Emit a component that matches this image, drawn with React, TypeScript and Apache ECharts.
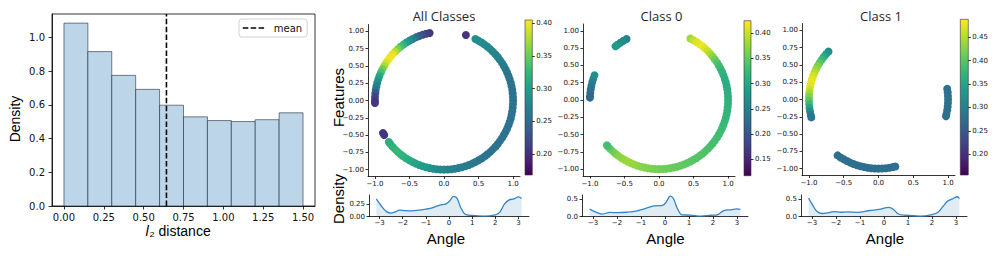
import React, { useEffect, useRef } from 'react';
import * as echarts from 'echarts';

// ---------------- data ----------------
const HIST_BIN_EDGES = [0, 0.15, 0.3, 0.45, 0.6, 0.75, 0.9, 1.05, 1.2, 1.35, 1.5];
const HIST_DENSITY = [1.085, 0.916, 0.775, 0.692, 0.598, 0.529, 0.507, 0.501, 0.512, 0.553];
const MEAN_L2 = 0.643;
const HIST_X_TICKS = [0, 0.25, 0.5, 0.75, 1.0, 1.25, 1.5];
const HIST_Y_TICKS = [0, 0.2, 0.4, 0.6, 0.8, 1.0];

const CIRCLE_X_TICKS = [-1, -0.5, 0, 0.5, 1];
const CIRCLE_Y_TICKS = [-1, -0.75, -0.5, -0.25, 0, 0.25, 0.5, 0.75, 1];
const ANGLE_TICKS = [-3, -2, -1, 0, 1, 2, 3];

// scatter samples: [angle in degrees, colour value]
const ALL_UPPER_LEFT: [number, number][] = [
  [102, 0.205], [105, 0.212], [108, 0.222], [111, 0.235], [114, 0.25], [117, 0.268], [120, 0.285],
  [123, 0.3], [126, 0.32], [129, 0.335], [132, 0.355], [135, 0.378], [138, 0.395], [141, 0.4],
  [144, 0.4], [147, 0.39], [150, 0.375], [153, 0.352], [156, 0.335], [159, 0.315], [162, 0.3],
  [165, 0.285], [168, 0.27], [171, 0.255], [174, 0.235], [177, 0.22], [180, 0.21], [182, 0.205],
];
const ALL_ISOLATED: [number, number][] = [[71.5, 0.205], [208, 0.205], [210, 0.205]];
const ALL_MAIN: [number, number][] = [
  [63, 0.285], [60, 0.284], [57, 0.283], [54, 0.282], [51, 0.28], [48, 0.279], [45, 0.278], [42, 0.276],
  [39, 0.274], [36, 0.271], [33, 0.268], [30, 0.266], [27, 0.264], [24, 0.262], [21, 0.261], [18, 0.26],
  [15, 0.259], [12, 0.258], [9, 0.258], [6, 0.257], [3, 0.257], [0, 0.257], [-3, 0.257], [-6, 0.257],
  [-9, 0.257], [-12, 0.257], [-15, 0.257], [-18, 0.257], [-21, 0.257], [-24, 0.257], [-27, 0.257],
  [-30, 0.257], [-33, 0.257], [-36, 0.257], [-39, 0.257], [-42, 0.257], [-45, 0.257], [-48, 0.258],
  [-51, 0.259], [-54, 0.26], [-57, 0.26], [-60, 0.261], [-63, 0.262], [-66, 0.263], [-69, 0.264],
  [-72, 0.266], [-75, 0.267], [-78, 0.269], [-81, 0.27], [-84, 0.272], [-87, 0.274], [-90, 0.276],
  [-93, 0.279], [-96, 0.282], [-99, 0.285], [-102, 0.289], [-105, 0.292], [-108, 0.296], [-111, 0.3],
  [-114, 0.304], [-117, 0.307], [-120, 0.311], [-123, 0.315], [-126, 0.318], [-129, 0.322], [-132, 0.325],
  [-135, 0.326], [-138, 0.323], [-141, 0.32], [-143, 0.317],
];

const C0_ARC_A: [number, number][] = [[118, 0.255], [121, 0.26], [124, 0.265], [127, 0.275], [129, 0.285]];
const C0_ARC_B: [number, number][] = [
  [159, 0.275], [162, 0.268], [165, 0.255], [168, 0.242], [171, 0.235], [174, 0.228], [177, 0.222], [178, 0.22],
];
const C0_MAIN: [number, number][] = [
  [63, 0.38], [60, 0.395], [57, 0.407], [54, 0.413], [51, 0.415], [48, 0.408], [45, 0.398], [42, 0.386],
  [39, 0.37], [36, 0.355], [33, 0.342], [30, 0.333], [27, 0.325], [24, 0.319], [21, 0.314], [18, 0.311],
  [15, 0.309], [12, 0.308], [9, 0.309], [6, 0.31], [3, 0.312], [0, 0.313], [-3, 0.315], [-6, 0.316],
  [-9, 0.318], [-12, 0.319], [-15, 0.321], [-18, 0.322], [-21, 0.324], [-24, 0.325], [-27, 0.327],
  [-30, 0.328], [-33, 0.33], [-36, 0.331], [-39, 0.332], [-42, 0.333], [-45, 0.335], [-48, 0.336],
  [-51, 0.338], [-54, 0.339], [-57, 0.34], [-60, 0.341], [-63, 0.343], [-66, 0.345], [-69, 0.347],
  [-72, 0.348], [-75, 0.35], [-78, 0.351], [-81, 0.353], [-84, 0.354], [-87, 0.356], [-90, 0.357],
  [-93, 0.359], [-96, 0.361], [-99, 0.363], [-102, 0.366], [-105, 0.368], [-108, 0.37], [-111, 0.373],
  [-114, 0.375], [-117, 0.376], [-120, 0.376], [-123, 0.374], [-126, 0.37], [-129, 0.365], [-132, 0.358],
  [-135, 0.35], [-138, 0.338], [-139, 0.333],
];

const C1_LEFT: [number, number][] = [
  [136, 0.32], [139, 0.338], [142, 0.36], [145, 0.38], [148, 0.4], [151, 0.42], [154, 0.435],
  [157, 0.45], [160, 0.465], [163, 0.475], [166, 0.478], [169, 0.472], [172, 0.46], [175, 0.44],
  [178, 0.42], [181, 0.4], [184, 0.38], [187, 0.35], [190, 0.318], [193, 0.295], [195, 0.285],
];
const C1_RIGHT: [number, number][] = [
  [9, 0.28], [6, 0.28], [3, 0.279], [0, 0.279], [-3, 0.279], [-6, 0.278], [-9, 0.278], [-12, 0.278], [-14, 0.278],
];
const C1_BOTTOM: [number, number][] = [
  [-126, 0.278], [-123, 0.277], [-120, 0.277], [-117, 0.277], [-114, 0.276], [-111, 0.276], [-108, 0.276],
  [-105, 0.275], [-102, 0.275], [-99, 0.275], [-96, 0.275], [-93, 0.275], [-90, 0.275], [-87, 0.276],
  [-84, 0.276], [-81, 0.277], [-78, 0.277], [-76, 0.278],
];

// colour-bar ranges and ticks
const ALL_CBAR_RANGE = [0.168, 0.405];
const ALL_CBAR_TICKS = [0.2, 0.25, 0.3, 0.35, 0.4];
const C0_CBAR_RANGE = [0.118, 0.424];
const C0_CBAR_TICKS = [0.15, 0.2, 0.25, 0.3, 0.35, 0.4];
const C1_CBAR_RANGE = [0.156, 0.488];
const C1_CBAR_TICKS = [0.2, 0.25, 0.3, 0.35, 0.4, 0.45];

// angle densities: [angle, density]
const ALL_DENSITY: [number, number][] = [
  [-3.14, 0.36], [-2.9, 0.2], [-2.7, 0.1], [-2.5, 0.07], [-2.3, 0.1], [-2.15, 0.13], [-1.9, 0.12],
  [-1.6, 0.115], [-1.3, 0.13], [-1.0, 0.15], [-0.7, 0.18], [-0.4, 0.235], [-0.15, 0.255], [0.0, 0.3],
  [0.2, 0.41], [0.35, 0.37], [0.5, 0.19], [0.7, 0.045], [1.0, 0.022], [1.5, 0.008], [2.0, 0.035],
  [2.2, 0.09], [2.4, 0.26], [2.6, 0.34], [2.8, 0.36], [3.0, 0.4], [3.14, 0.37],
];
const C0_DENSITY: [number, number][] = [
  [-3.14, 0.21], [-2.85, 0.12], [-2.6, 0.07], [-2.3, 0.115], [-2.0, 0.11], [-1.6, 0.12], [-1.2, 0.15],
  [-0.8, 0.23], [-0.45, 0.3], [-0.1, 0.315], [0.05, 0.41], [0.22, 0.58], [0.35, 0.51], [0.52, 0.22],
  [0.72, 0.045], [1.05, 0.04], [1.5, 0.012], [1.9, 0.035], [2.15, 0.04], [2.45, 0.17], [2.75, 0.19],
  [3.0, 0.215], [3.14, 0.2],
];
const C1_DENSITY: [number, number][] = [
  [-3.14, 0.52], [-2.95, 0.3], [-2.8, 0.15], [-2.6, 0.085], [-2.35, 0.1], [-2.1, 0.14], [-1.8, 0.12],
  [-1.5, 0.13], [-1.1, 0.115], [-0.6, 0.17], [-0.2, 0.2], [0.2, 0.26], [0.4, 0.2], [0.6, 0.07],
  [0.9, 0.035], [1.5, 0.012], [2.0, 0.055], [2.25, 0.12], [2.45, 0.28], [2.65, 0.44], [2.85, 0.5],
  [3.05, 0.56], [3.14, 0.51],
];

// ---------------- styling / layout ----------------
const W = 997;
const H = 256;
const VIRIDIS = ['#440154', '#482878', '#3e4989', '#31688e', '#26828e', '#1f9e89', '#35b779', '#6ece58', '#b5de2b', '#fde725'];
const TICK_FONT = 'DejaVu Sans';
const LABEL_FONT = 'Liberation Sans';

const fmt = (v: number, d: number) => {
  const s = Math.abs(v).toFixed(d);
  return v < -1e-9 ? '\u2212' + s : s;
};

function valueAxis(gridIndex: number, min: number, max: number, ticks: number[] | null, digits: number, o: any) {
  return {
    type: 'value',
    gridIndex,
    min,
    max,
    show: o.show !== false,
    position: o.position,
    axisLine: { show: o.line !== false, onZero: false, lineStyle: { color: '#000', width: 0.8 } },
    axisTick: {
      show: !!ticks,
      inside: false,
      length: o.tickLen,
      customValues: ticks || undefined,
      lineStyle: { color: '#000', width: 0.8 },
    },
    axisLabel: {
      show: !!ticks,
      customValues: ticks || undefined,
      margin: o.margin,
      fontSize: o.fontSize,
      lineHeight: o.lineHeight,
      fontFamily: TICK_FONT,
      color: '#111',
      formatter: (v: number) => fmt(v, digits),
    },
    splitLine: { show: false },
  };
}

const toCircle = (pts: [number, number][]) =>
  pts.map(([a, v]) => [Math.cos((a * Math.PI) / 180), Math.sin((a * Math.PI) / 180), v]);

const PANELS = [
  {
    title: 'All Classes', titleX: 444, angleX: 446,
    points: [...ALL_UPPER_LEFT, ...ALL_ISOLATED, ...ALL_MAIN],
    cbarRange: ALL_CBAR_RANGE, cbarTicks: ALL_CBAR_TICKS,
    density: ALL_DENSITY, densMax: 0.44, densTicks: [0, 0.25], densDigits: 2,
    scatter: { left: 368, top: 24.5, width: 152, height: 152 },
    cbar: { left: 525, top: 20, width: 7.3, height: 155 },
    dens: { left: 369, top: 195, width: 160, height: 21.5 },
  },
  {
    title: 'Class 0', titleX: 661.5, angleX: 665.5,
    points: [...C0_ARC_A, ...C0_ARC_B, ...C0_MAIN],
    cbarRange: C0_CBAR_RANGE, cbarTicks: C0_CBAR_TICKS,
    density: C0_DENSITY, densMax: 0.61, densTicks: [0, 0.5], densDigits: 1,
    scatter: { left: 583, top: 24, width: 152, height: 152 },
    cbar: { left: 744, top: 20.7, width: 7, height: 155 },
    dens: { left: 582, top: 195, width: 166, height: 21.5 },
  },
  {
    title: 'Class 1', titleX: 881, angleX: 885,
    points: [...C1_LEFT, ...C1_RIGHT, ...C1_BOTTOM],
    cbarRange: C1_CBAR_RANGE, cbarTicks: C1_CBAR_TICKS,
    density: C1_DENSITY, densMax: 0.61, densTicks: [0, 0.5], densDigits: 1,
    scatter: { left: 802, top: 23.5, width: 153, height: 152 },
    cbar: { left: 960.3, top: 19.3, width: 8, height: 155.7 },
    dens: { left: 801, top: 195, width: 166, height: 21.5 },
  },
];

function buildOption() {
  const grid: any[] = [];
  const xAxis: any[] = [];
  const yAxis: any[] = [];
  const series: any[] = [];
  const visualMap: any[] = [];
  const texts: any[] = [];

  const HIST_XMIN = -0.075, HIST_XMAX = 1.575, HIST_YMAX = 1.139;

  // histogram
  grid.push({ left: 52, top: 14, width: 263, height: 192, show: true, borderColor: '#000', borderWidth: 0.8, backgroundColor: 'transparent' });
  xAxis.push(valueAxis(0, HIST_XMIN, HIST_XMAX, HIST_X_TICKS, 2, { position: 'bottom', tickLen: 3.5, margin: 6, fontSize: 10, lineHeight: 11 }));
  yAxis.push(valueAxis(0, 0, HIST_YMAX, HIST_Y_TICKS, 1, { position: 'left', tickLen: 3.5, margin: 7, fontSize: 10 }));
  series.push({
    type: 'custom',
    xAxisIndex: 0,
    yAxisIndex: 0,
    silent: true,
    data: HIST_DENSITY.map((d, i) => [HIST_BIN_EDGES[i], HIST_BIN_EDGES[i + 1], d]),
    encode: { x: [0, 1], y: 2 },
    renderItem: (_p: any, api: any) => {
      const a = api.coord([api.value(0), api.value(2)]);
      const b = api.coord([api.value(1), 0]);
      return {
        type: 'rect',
        shape: { x: a[0], y: a[1], width: b[0] - a[0], height: b[1] - a[1] },
        style: { fill: '#bcd5e8', stroke: 'rgba(20,30,40,0.55)', lineWidth: 1 },
      };
    },
  });
  series.push({
    type: 'line',
    name: 'mean',
    xAxisIndex: 0,
    yAxisIndex: 0,
    data: [[MEAN_L2, 0], [MEAN_L2, HIST_YMAX]],
    symbol: 'none',
    silent: true,
    z: 5,
    itemStyle: { color: '#000' },
    lineStyle: { color: '#000', width: 1.6, type: [5.5, 2.4] },
  });
  texts.push({
    type: 'text', x: 15, y: 119, rotation: Math.PI / 2,
    style: { text: 'Density', fontSize: 14, fontFamily: LABEL_FONT, fill: '#000', align: 'center', verticalAlign: 'middle' },
  });
  texts.push({
    type: 'text', x: 178, y: 230.5,
    style: {
      text: '{i|l}{t|\u2082 distance}',
      fontSize: 14, lineHeight: 13, fontFamily: LABEL_FONT, fill: '#000', align: 'center', verticalAlign: 'middle',
      rich: {
        i: { fontStyle: 'italic', fontFamily: 'DejaVu Sans', fontSize: 14, lineHeight: 13, fill: '#000' },
        t: { fontFamily: LABEL_FONT, fontSize: 14, lineHeight: 13, fill: '#000' },
      },
    },
  });

  PANELS.forEach((p, i) => {
    const g = 1 + i * 3;
    // scatter
    grid.push({ ...p.scatter });
    xAxis.push(valueAxis(g, -1.1, 1.1, CIRCLE_X_TICKS, 1, { position: 'bottom', tickLen: 2.5, margin: 4, fontSize: 7 }));
    yAxis.push(valueAxis(g, -1.1, 1.1, CIRCLE_Y_TICKS, 2, { position: 'left', tickLen: 2.5, margin: 4, fontSize: 7 }));
    // colorbar
    grid.push({
      ...p.cbar,
      show: true,
      borderColor: '#333',
      borderWidth: 0.6,
      backgroundColor: {
        type: 'linear', x: 0, y: 1, x2: 0, y2: 0,
        colorStops: VIRIDIS.map((c, k) => ({ offset: k / (VIRIDIS.length - 1), color: c })),
      },
    });
    xAxis.push(valueAxis(g + 1, 0, 1, null, 0, { show: false, line: false }));
    yAxis.push(valueAxis(g + 1, p.cbarRange[0], p.cbarRange[1], p.cbarTicks, 2, { position: 'right', line: false, tickLen: 2.5, margin: 4, fontSize: 7 }));
    // density
    grid.push({ ...p.dens });
    xAxis.push(valueAxis(g + 2, -3.456, 3.456, ANGLE_TICKS, 0, { position: 'bottom', tickLen: 2.5, margin: 3, fontSize: 7 }));
    yAxis.push(valueAxis(g + 2, 0, p.densMax, p.densTicks, p.densDigits, { position: 'left', tickLen: 2.5, margin: 4, fontSize: 7 }));

    const sIdx = series.length;
    series.push({
      type: 'scatter',
      xAxisIndex: g,
      yAxisIndex: g,
      data: toCircle(p.points),
      symbolSize: 8,
      silent: true,
      itemStyle: { opacity: 1 },
    });
    visualMap.push({
      type: 'continuous',
      show: false,
      min: p.cbarRange[0],
      max: p.cbarRange[1],
      dimension: 2,
      seriesIndex: sIdx,
      inRange: { color: VIRIDIS },
    });
    series.push({
      type: 'line',
      xAxisIndex: g + 2,
      yAxisIndex: g + 2,
      data: p.density,
      smooth: 0.35,
      symbol: 'none',
      silent: true,
      lineStyle: { color: '#3384c8', width: 1.3 },
      areaStyle: { color: 'rgba(31,119,180,0.2)' },
    });

    texts.push({
      type: 'text', x: p.titleX, y: 15.7,
      style: { text: p.title, fontSize: 13, fontFamily: 'Open Sans', fill: '#262626', align: 'center', verticalAlign: 'middle' },
    });
    texts.push({
      type: 'text', x: p.angleX, y: 238.3,
      style: { text: 'Angle', fontSize: 15, fontFamily: LABEL_FONT, fill: '#000', align: 'center', verticalAlign: 'middle' },
    });
  });

  texts.push({
    type: 'text', x: 338, y: 97.5, rotation: Math.PI / 2,
    style: { text: 'Features', fontSize: 15, fontFamily: LABEL_FONT, fill: '#000', align: 'center', verticalAlign: 'middle' },
  });
  texts.push({
    type: 'text', x: 338, y: 199, rotation: Math.PI / 2,
    style: { text: 'Density', fontSize: 15, fontFamily: LABEL_FONT, fill: '#000', align: 'center', verticalAlign: 'middle' },
  });

  return {
    animation: false,
    backgroundColor: '#fff',
    grid,
    xAxis,
    yAxis,
    series,
    visualMap,
    legend: {
      data: ['mean'],
      left: 239,
      top: 19,
      itemWidth: 22,
      itemHeight: 10,
      padding: [4, 5, 4, 3],
      borderColor: '#d0d0d0',
      borderWidth: 1,
      borderRadius: 3,
      selectedMode: false,
      backgroundColor: 'rgba(255,255,255,0.85)',
      itemStyle: { opacity: 0 },
      lineStyle: { color: '#000', width: 1.6, type: [5.5, 2.4], opacity: 1 },
      textStyle: { fontSize: 10, fontFamily: TICK_FONT, color: '#111', padding: [0, 0, 0, 4] },
    },
    graphic: { elements: texts },
  };
}

export default function App() {
  const ref = useRef<HTMLDivElement>(null);
  useEffect(() => {
    if (!ref.current) return;
    const chart = echarts.init(ref.current, null, { renderer: 'svg', width: W, height: H });
    chart.setOption(buildOption());
    return () => chart.dispose();
  }, []);
  return <div ref={ref} style={{ position: 'fixed', left: 0, top: 0, width: W, height: H, background: '#fff' }} />;
}
